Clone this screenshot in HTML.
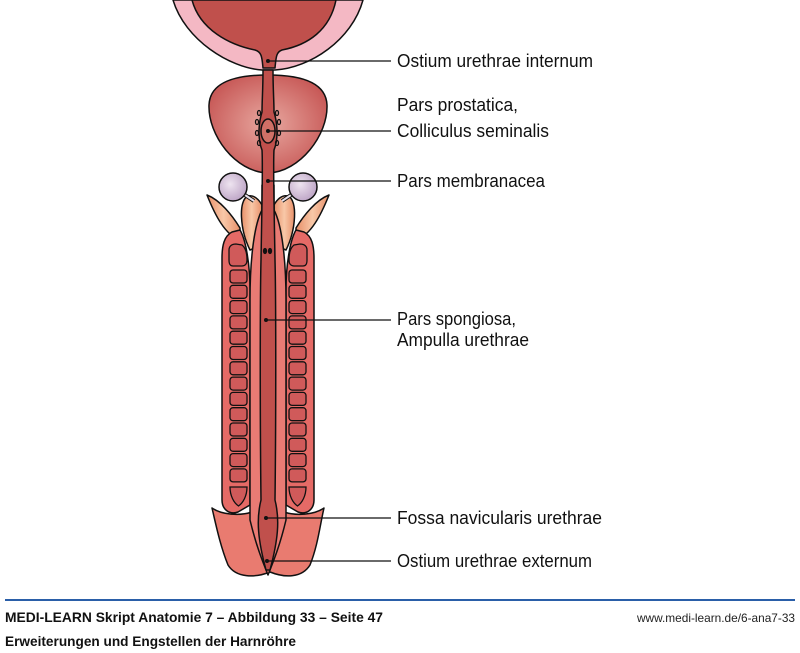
<!DOCTYPE html>
<html><head><meta charset="utf-8"><style>
body{margin:0;background:#fff;width:800px;height:653px;overflow:hidden}
svg{display:block}
.l{font-family:"Liberation Sans Narrow","Liberation Sans",sans-serif;font-size:18px;fill:#111}
.f{font-family:"Liberation Sans Narrow","Liberation Sans",sans-serif;font-size:14px;font-weight:bold;fill:#111}
</style></head><body>
<svg width="800" height="653" viewBox="0 0 800 653">
<defs>
<radialGradient id="pg" cx="0.5" cy="0.5" r="0.55"><stop offset="0" stop-color="#e8a8a0"/><stop offset="1" stop-color="#c85a58"/></radialGradient>
<linearGradient id="og" x1="0" x2="1"><stop offset="0" stop-color="#e8906a"/><stop offset="0.5" stop-color="#f8c8a8"/><stop offset="1" stop-color="#e8906a"/></linearGradient>
<radialGradient id="bg" cx="0.4" cy="0.4" r="0.6"><stop offset="0" stop-color="#eee4f0"/><stop offset="1" stop-color="#c0a8c8"/></radialGradient>
</defs>
<g stroke="#111" stroke-width="1.5" stroke-linejoin="round">
<path d="M173,0 C185,40 230,68 262,70 L275,70 C310,68 352,40 363,0 Z" fill="#f4b8c4"/>
<path d="M192,0 C200,30 230,45 255,50 C262,52 262,58 263,68 L275,68 C276,58 276,52 282,50 C308,45 330,30 336,0 Z" fill="#c0504c"/>
<path d="M268,75 C235,75 210,82 209,105 C208,135 235,172 268,173 C300,172 328,135 327,105 C326,82 300,75 268,75 Z" fill="url(#pg)"/>
<path d="M207,195 C215,215 225,235 240,240 L240,228 C232,215 220,200 207,195 Z" fill="url(#og)"/>
<path d="M329,195 C321,215 311,235 296,240 L296,228 C304,215 316,200 329,195 Z" fill="url(#og)"/>
<path d="M248,196 C238,200 240,230 250,250 L262,245 L262,205 C258,198 253,195 248,196 Z" fill="url(#og)"/>
<path d="M288,196 C298,200 296,230 286,250 L274,245 L274,205 C278,198 283,195 288,196 Z" fill="url(#og)"/>
<line x1="233" y1="187" x2="254" y2="201" stroke-width="4"/><line x1="233" y1="187" x2="254" y2="201" stroke="#e8e0ea" stroke-width="2"/>
<line x1="303" y1="187" x2="282" y2="201" stroke-width="4"/><line x1="303" y1="187" x2="282" y2="201" stroke="#e8e0ea" stroke-width="2"/>
<circle cx="233" cy="187" r="14" fill="url(#bg)"/>
<circle cx="303" cy="187" r="14" fill="url(#bg)"/>
<path d="M212,508 C222,515 240,516 252,512 L284,512 C296,516 314,515 324,508 C320,525 318,545 310,565 C302,578 285,578 270,572 C255,578 236,578 228,565 C220,545 216,525 212,508 Z" fill="#e97b70"/>
<path d="M232,232 C224,236 222,246 222,258 L222,500 C222,510 230,515 238,512 L250,505 L250,290 C250,265 246,240 240,230 Z" fill="#e56a66"/>
<path d="M304,232 C312,236 314,246 314,258 L314,500 C314,510 306,515 298,512 L286,505 L286,290 C286,265 290,240 296,230 Z" fill="#e56a66"/>
<path d="M262,185 L262,210 C254,225 250,260 250,300 L250,520 C256,545 262,560 268,575 C274,560 280,545 286,520 L286,300 C286,260 282,225 274,210 L274,185 Z" fill="#e97b74"/>
<path d="M263,70 C263,90 262,100 262,112 C258,125 258,140 262,150 C263,165 262,200 261,260 C260,300 260,420 261,500 C256,520 258,540 266,570 L270,570 C278,540 280,520 275,500 C276,420 276,300 275,260 C274,200 273,165 274,150 C278,140 278,125 274,112 C274,100 273,90 273,70 Z" fill="#c0504c"/>
<ellipse cx="268" cy="131" rx="7" ry="12" fill="#d07066"/>
</g>
<g fill="none" stroke="#111" stroke-width="1.3">
<ellipse cx="259" cy="113" rx="1.5" ry="2.5"/><ellipse cx="277" cy="113" rx="1.5" ry="2.5"/>
<ellipse cx="257" cy="122" rx="1.5" ry="2.5"/><ellipse cx="279" cy="122" rx="1.5" ry="2.5"/>
<ellipse cx="257" cy="133" rx="1.5" ry="2.5"/><ellipse cx="279" cy="133" rx="1.5" ry="2.5"/>
<ellipse cx="259" cy="143" rx="1.5" ry="2.5"/><ellipse cx="277" cy="143" rx="1.5" ry="2.5"/>
<ellipse cx="265" cy="251" rx="1.5" ry="2.5" fill="#111"/><ellipse cx="270" cy="251" rx="1.5" ry="2.5" fill="#111"/>
</g>
<g fill="#d05a5a" stroke="#111" stroke-width="1.3" id="ch">
<path d="M229,250 C229,246 232,244 236,244 L242,245 C246,248 247,254 247,260 C247,264 245,266 242,266 L233,266 C230,266 229,264 229,260 Z"/>
<rect x="230" y="270" width="17" height="13" rx="3"/><rect x="230" y="285.3" width="17" height="13" rx="3"/>
<rect x="230" y="300.6" width="17" height="13" rx="3"/><rect x="230" y="315.9" width="17" height="13" rx="3"/>
<rect x="230" y="331.2" width="17" height="13" rx="3"/><rect x="230" y="346.5" width="17" height="13" rx="3"/>
<rect x="230" y="361.8" width="17" height="13" rx="3"/><rect x="230" y="377.1" width="17" height="13" rx="3"/>
<rect x="230" y="392.4" width="17" height="13" rx="3"/><rect x="230" y="407.7" width="17" height="13" rx="3"/>
<rect x="230" y="423" width="17" height="13" rx="3"/><rect x="230" y="438.3" width="17" height="13" rx="3"/>
<rect x="230" y="453.6" width="17" height="13" rx="3"/><rect x="230" y="468.9" width="17" height="13" rx="3"/>
<path d="M230,487 L247,487 C247,496 243,503 238.5,506 C234,503 230,496 230,487 Z"/>
</g>
<use href="#ch" transform="translate(536,0) scale(-1,1)"/>
<g stroke="#111" stroke-width="1.3">
<line x1="268" y1="61" x2="391" y2="61"/><line x1="268" y1="131" x2="391" y2="131"/>
<line x1="268" y1="181" x2="391" y2="181"/><line x1="266" y1="320" x2="391" y2="320"/>
<line x1="266" y1="518" x2="391" y2="518"/><line x1="267" y1="561" x2="391" y2="561"/>
</g>
<g fill="#111"><circle cx="268" cy="61" r="2"/><circle cx="268" cy="131" r="2"/><circle cx="268" cy="181" r="2"/><circle cx="266" cy="320" r="2"/><circle cx="266" cy="518" r="2"/><circle cx="267" cy="561" r="2"/></g>
<text class="l" x="397" y="67" textLength="196" lengthAdjust="spacingAndGlyphs">Ostium urethrae internum</text>
<text class="l" x="397" y="111" textLength="121" lengthAdjust="spacingAndGlyphs">Pars prostatica,</text>
<text class="l" x="397" y="137" textLength="152" lengthAdjust="spacingAndGlyphs">Colliculus seminalis</text>
<text class="l" x="397" y="187" textLength="148" lengthAdjust="spacingAndGlyphs">Pars membranacea</text>
<text class="l" x="397" y="325" textLength="119" lengthAdjust="spacingAndGlyphs">Pars spongiosa,</text>
<text class="l" x="397" y="346" textLength="132" lengthAdjust="spacingAndGlyphs">Ampulla urethrae</text>
<text class="l" x="397" y="524" textLength="205" lengthAdjust="spacingAndGlyphs">Fossa navicularis urethrae</text>
<text class="l" x="397" y="567" textLength="195" lengthAdjust="spacingAndGlyphs">Ostium urethrae externum</text>
<line x1="5" y1="600" x2="795" y2="600" stroke="#2a5ea8" stroke-width="2"/>
<text class="f" x="5" y="622" textLength="378" lengthAdjust="spacingAndGlyphs">MEDI-LEARN Skript Anatomie 7 – Abbildung 33 – Seite 47</text>
<text x="795" y="622" text-anchor="end" font-family="Liberation Sans Narrow,Liberation Sans,sans-serif" font-size="12" fill="#222" textLength="158" lengthAdjust="spacingAndGlyphs">www.medi-learn.de/6-ana7-33</text>
<text class="f" x="5" y="646" textLength="291" lengthAdjust="spacingAndGlyphs">Erweiterungen und Engstellen der Harnröhre</text>
</svg>
</body></html>
